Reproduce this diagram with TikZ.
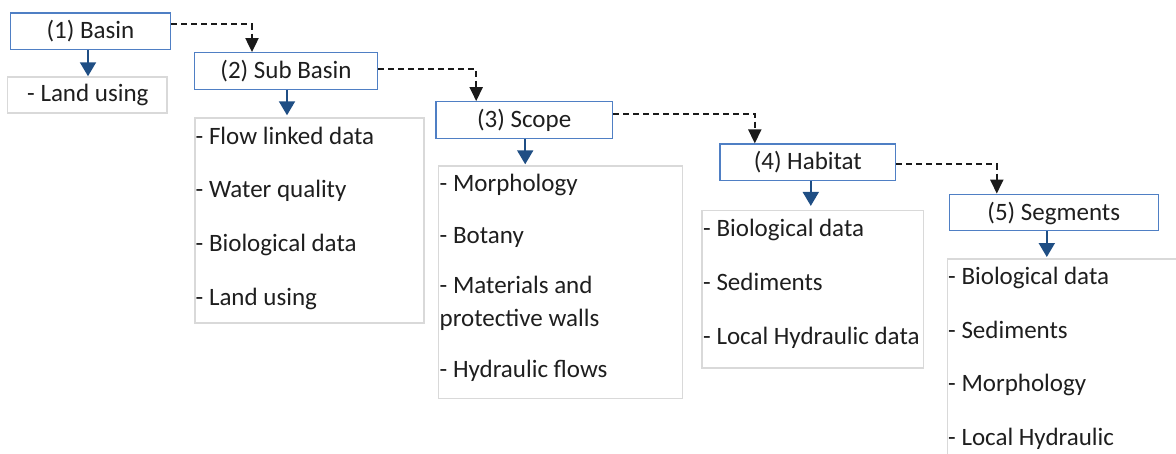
\documentclass[tikz,border=0pt]{standalone}
\usepackage{fontspec}
\setmainfont{Carlito}
\usetikzlibrary{arrows.meta}
\definecolor{hdrblue}{HTML}{4F7FC4}
\definecolor{arrblue}{HTML}{1F4E84}
\definecolor{boxgray}{HTML}{D9D9D9}
\definecolor{txt}{HTML}{1E1E1E}
\definecolor{dashcol}{HTML}{1A1A1A}
\begin{document}
\begin{tikzpicture}[x=1pt,y=-1pt, font=\fontsize{25}{30}\selectfont, text=txt,
 hdr/.style={draw=hdrblue, line width=1.3pt, minimum width=#1, minimum height=36.5pt, inner sep=0pt, fill=white, text depth=6pt, text height=21pt},
 lst/.style={draw=boxgray, line width=1.5pt, inner sep=0pt},
 item/.style={anchor=base west, inner sep=0pt},
 down/.style={arrblue, line width=2pt, -{Triangle[length=14pt,width=16pt]}},
 link/.style={dashcol, line width=2pt, dash pattern=on 6pt off 4pt, -{Triangle[length=14pt,width=13pt]}}]
\useasboundingbox (0,0) rectangle (1176,453);
\clip (0,0) rectangle (1176,453);
% headers
\node[hdr=160.5pt] (b1) at (90.5,31.3) {(1) Basin};
\node[hdr=183pt] (b2) at (286,71) {(2) Sub Basin};
\node[hdr=176.3pt] (b3) at (524.2,120) {(3) Scope};
\node[hdr=175.7pt] (b4) at (807.8,162.3) {(4) Habitat};
\node[hdr=209pt] (b5) at (1053.8,212.5) {(5) Segments};
% list boxes
\node[lst, minimum width=159.7pt, minimum height=36pt] (l1) at (87.2,95) {};
\node[lst, minimum width=229pt, minimum height=205pt] (l2) at (309.5,220.5) {};
\node[lst, minimum width=244.4pt, minimum height=232.3pt] (l3) at (560.5,282.2) {};
\node[lst, minimum width=221.3pt, minimum height=157.3pt] (l4) at (812.7,289.3) {};
\node[lst, minimum width=242.7pt, minimum height=211.3pt] (l5) at (1068.7,364.4) {};
% items
\node[item] (i11) at (27,101.7) {- Land using};
\node[item] (i21) at (195.5,144) {- Flow linked data};
\node[item] (i22) at (195.5,197) {- Water quality};
\node[item] (i23) at (195.5,251) {- Biological data};
\node[item] (i24) at (195.5,305) {- Land using};
\node[item] (i31) at (439.5,191.7) {- Morphology};
\node[item] (i32) at (439.5,243) {- Botany};
\node[item] (i33) at (439.5,293) {- Materials and};
\node[item] (i34) at (439.5,326) {protective walls};
\node[item] (i35) at (439.5,377) {- Hydraulic flows};
\node[item] (i41) at (703,236.7) {- Biological data};
\node[item] (i42) at (703,290.7) {- Sediments};
\node[item] (i43) at (703,344) {- Local Hydraulic data};
\node[item] (i51) at (948,284) {- Biological data};
\node[item] (i52) at (948,338) {- Sediments};
\node[item] (i53) at (948,391.7) {- Morphology};
\node[item] (i54) at (948,445) {- Local Hydraulic};
% blue arrows
\draw[down] ([xshift=-2.5pt]b1.south) -- ([xshift=-2.5pt]b1.south |- l1.north);
\draw[down] ([xshift=1pt]b2.south) -- ([xshift=1pt,yshift=2pt]b2.south |- l2.north);
\draw[down] ([xshift=1pt]b3.south) -- ([xshift=1pt,yshift=1pt]b3.south |- l3.north);
\draw[down] ([xshift=3pt]b4.south) -- ([xshift=3pt,yshift=4pt]b4.south |- l4.north);
\draw[down] ([xshift=-7pt]b5.south) -- ([xshift=-7pt,yshift=1pt]b5.south |- l5.north);
% dashed links
\draw[link] ([yshift=7pt]b1.east) -| ([xshift=-34pt]b2.north);
\draw[link] ([yshift=2pt]b2.east) -| ([xshift=-48pt]b3.north);
\draw[link] ([yshift=6.5pt]b3.east) -| ([xshift=-53pt]b4.north);
\draw[link] ([yshift=-1.7pt]b4.east) -| ([xshift=-57pt]b5.north);
\end{tikzpicture}
\end{document}
